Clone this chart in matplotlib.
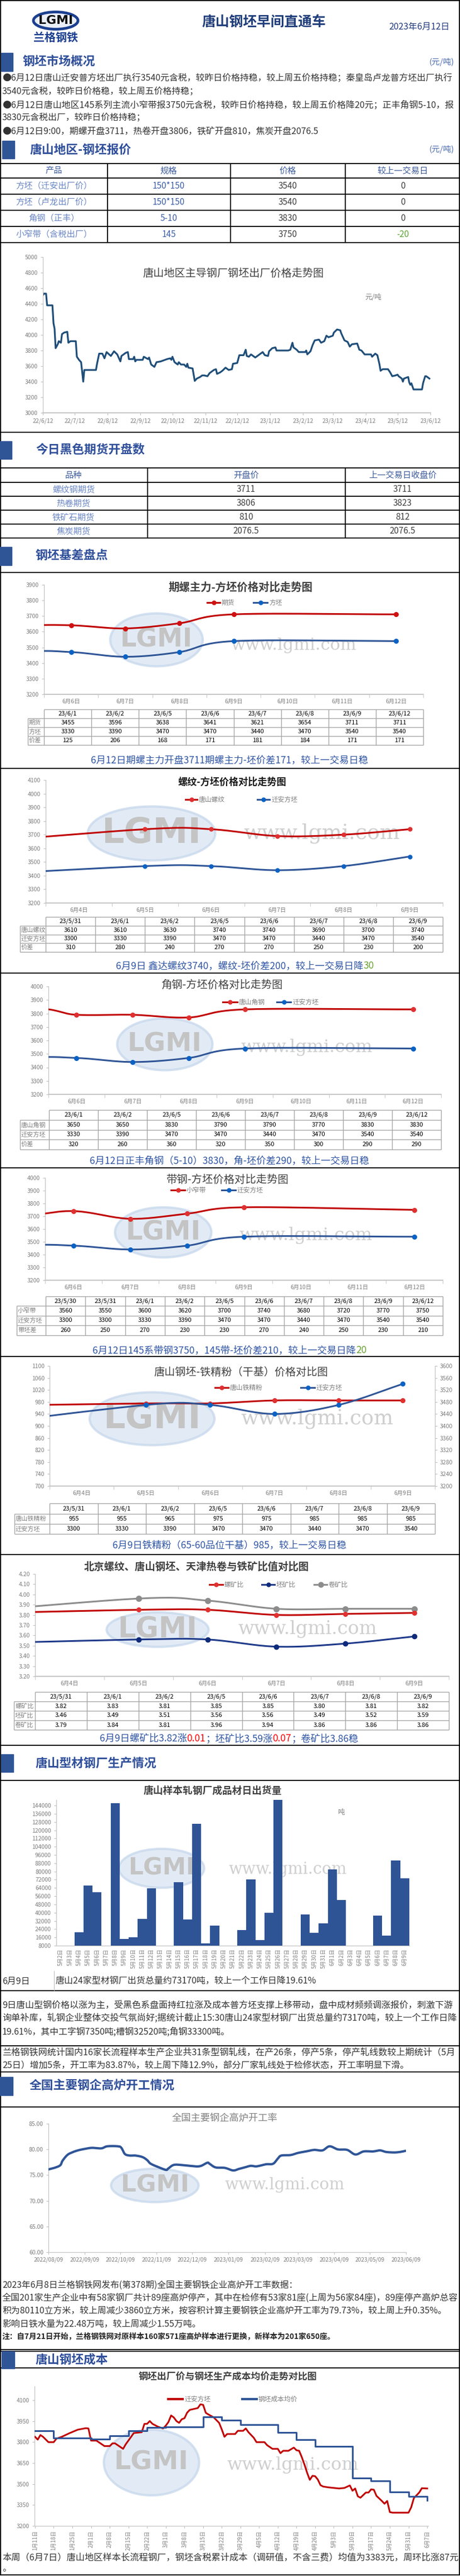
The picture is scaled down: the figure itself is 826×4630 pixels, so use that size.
# 唐山钢坯早间直通车 - one tall report page, drawn on a pixel-sized "page" axes
import re
import numpy as np
import pandas as pd
import matplotlib
matplotlib.use('Agg')
import matplotlib.pyplot as plt
import matplotlib.dates as mdates
from matplotlib.patches import Rectangle, Ellipse

plt.rcParams['font.family'] = ['Noto Sans CJK SC', 'DejaVu Sans']
plt.rcParams['axes.unicode_minus'] = False

# ---------------- data ----------------
quote_products = ['方坯（迁安出厂价）', '方坯（卢龙出厂价）', '角钢（正丰）', '小窄带（含税出厂）']
quote_specs = ['150*150', '150*150', '5-10', '145']
quote_prices = [3540, 3540, 3830, 3750]
quote_change = [0, 0, 0, -20]

fut_names = ['螺纹钢期货', '热卷期货', '铁矿石期货', '焦炭期货']
fut_open = ['3711', '3806', '810', '2076.5']
fut_prev = ['3711', '3823', '812', '2076.5']

billet_dates = ['2022-06-12', '2022-06-13', '2022-06-15', '2022-06-16', '2022-06-21', '2022-06-22', '2022-06-23',
                '2022-06-24', '2022-06-26', '2022-06-27', '2022-06-29', '2022-06-30', '2022-07-02', '2022-07-05',
                '2022-07-06', '2022-07-08', '2022-07-13', '2022-07-14', '2022-07-16', '2022-07-18', '2022-07-20',
                '2022-07-21', '2022-08-01', '2022-08-02', '2022-08-04', '2022-08-07', '2022-08-09', '2022-08-11',
                '2022-08-15', '2022-08-18', '2022-08-21', '2022-08-24', '2022-08-25', '2022-08-29', '2022-08-31',
                '2022-09-01', '2022-09-05', '2022-09-06', '2022-09-07', '2022-09-08', '2022-09-14', '2022-09-15',
                '2022-09-19', '2022-09-20', '2022-09-22', '2022-09-25', '2022-09-27', '2022-10-01', '2022-10-07',
                '2022-10-10', '2022-10-11', '2022-10-12', '2022-10-14', '2022-10-17', '2022-10-18', '2022-10-20',
                '2022-10-23', '2022-10-25', '2022-10-26', '2022-10-27', '2022-10-31', '2022-11-02', '2022-11-04',
                '2022-11-07', '2022-11-09', '2022-11-11', '2022-11-14', '2022-11-16', '2022-11-20', '2022-11-22',
                '2022-11-23', '2022-11-26', '2022-11-28', '2022-12-01', '2022-12-04', '2022-12-07', '2022-12-08',
                '2022-12-12', '2022-12-14', '2022-12-18', '2022-12-20', '2022-12-21', '2022-12-23', '2022-12-25',
                '2022-12-29', '2023-01-01', '2023-01-04', '2023-01-05', '2023-01-07', '2023-01-10', '2023-01-11',
                '2023-01-14', '2023-01-17', '2023-01-18', '2023-01-29', '2023-01-31', '2023-02-02', '2023-02-03',
                '2023-02-06', '2023-02-08', '2023-02-14', '2023-02-15', '2023-02-16', '2023-02-19', '2023-02-21',
                '2023-02-23', '2023-02-27', '2023-03-01', '2023-03-04', '2023-03-06', '2023-03-08', '2023-03-12',
                '2023-03-13', '2023-03-16', '2023-03-19', '2023-03-20', '2023-03-23', '2023-03-26', '2023-03-28',
                '2023-03-30', '2023-04-04', '2023-04-06', '2023-04-08', '2023-04-11', '2023-04-17', '2023-04-18',
                '2023-04-21', '2023-04-23', '2023-04-25', '2023-04-26', '2023-04-28', '2023-05-03', '2023-05-05',
                '2023-05-07', '2023-05-10', '2023-05-12', '2023-05-13', '2023-05-16', '2023-05-17', '2023-05-18',
                '2023-05-22', '2023-05-23', '2023-05-24', '2023-05-25', '2023-05-27', '2023-06-04', '2023-06-05',
                '2023-06-07', '2023-06-08', '2023-06-11']
billet_prices = [4510, 4530, 4530, 4380, 4380, 4150, 4080, 3830, 3880, 3920, 3900, 4010, 4030, 4040, 3900, 3920,
                 3920, 3720, 3680, 3650, 3400, 3550, 3550, 3630, 3760, 3760, 3700, 3780, 3730, 3790, 3750, 3660,
                 3730, 3770, 3780, 3690, 3690, 3720, 3660, 3680, 3680, 3720, 3690, 3710, 3620, 3590, 3650, 3660,
                 3690, 3700, 3680, 3720, 3650, 3620, 3650, 3620, 3620, 3590, 3630, 3580, 3570, 3410, 3440, 3460,
                 3480, 3480, 3470, 3510, 3550, 3560, 3500, 3520, 3540, 3580, 3550, 3560, 3630, 3640, 3740, 3740,
                 3810, 3730, 3720, 3750, 3710, 3740, 3770, 3780, 3740, 3730, 3790, 3830, 3840, 3800, 3800, 3810,
                 3900, 3840, 3810, 3780, 3780, 3800, 3750, 3790, 3870, 3930, 3940, 3900, 3920, 3990, 3970, 3990,
                 4030, 4070, 4060, 4020, 3930, 3910, 3850, 3880, 3890, 3810, 3800, 3750, 3750, 3720, 3760, 3740,
                 3620, 3540, 3560, 3560, 3520, 3470, 3480, 3490, 3470, 3440, 3400, 3440, 3460, 3390, 3360, 3380,
                 3300, 3300, 3380, 3470, 3470, 3440]
billet_ticks = ['2022-06-12', '2022-07-12', '2022-08-12', '2022-09-12', '2022-10-12', '2022-11-12', '2022-12-12',
                '2023-01-12', '2023-02-12', '2023-03-12', '2023-04-12', '2023-05-12', '2023-06-12']

# 期螺主力-方坯
fut_days = ['23/6/1', '23/6/2', '23/6/5', '23/6/6', '23/6/7', '23/6/8', '23/6/9', '23/6/12']
fut_main = [3455, 3596, 3638, 3641, 3621, 3654, 3711, 3711]
fut_billet = [3330, 3390, 3470, 3470, 3440, 3470, 3540, 3540]
fut_spread = [125, 206, 168, 171, 181, 184, 171, 171]
cats_a = ['6月6日', '6月7日', '6月8日', '6月9日', '6月10日', '6月11日', '6月12日']

# 螺纹-方坯
rebar_days = ['23/5/31', '23/6/1', '23/6/2', '23/6/5', '23/6/6', '23/6/7', '23/6/8', '23/6/9']
rebar_ts = [3610, 3610, 3630, 3740, 3740, 3690, 3700, 3740]
rebar_billet = [3300, 3330, 3390, 3470, 3470, 3440, 3470, 3540]
rebar_spread = [310, 280, 240, 270, 270, 250, 230, 200]
cats_b = ['6月4日', '6月5日', '6月6日', '6月7日', '6月8日', '6月9日']

# 角钢-方坯
angle_days = ['23/6/1', '23/6/2', '23/6/5', '23/6/6', '23/6/7', '23/6/8', '23/6/9', '23/6/12']
angle_ts = [3650, 3650, 3830, 3790, 3790, 3770, 3830, 3830]
angle_billet = [3330, 3390, 3470, 3470, 3440, 3470, 3540, 3540]
angle_spread = [320, 260, 360, 320, 350, 300, 290, 290]

# 带钢-方坯
strip_days = ['23/5/30', '23/5/31', '23/6/1', '23/6/2', '23/6/5', '23/6/6', '23/6/7', '23/6/8', '23/6/9', '23/6/12']
strip_ts = [3560, 3550, 3600, 3620, 3700, 3740, 3680, 3720, 3770, 3750]
strip_billet = [3300, 3300, 3330, 3390, 3470, 3470, 3440, 3470, 3540, 3540]
strip_spread = [260, 250, 270, 230, 230, 270, 240, 250, 230, 210]

# 铁精粉-方坯
ore_days = ['23/5/31', '23/6/1', '23/6/2', '23/6/5', '23/6/6', '23/6/7', '23/6/8', '23/6/9']
ore_ts = [955, 955, 965, 975, 975, 985, 985, 985]
ore_billet = [3300, 3330, 3390, 3470, 3470, 3440, 3470, 3540]

# 比值
ratio_days = ['23/5/31', '23/6/1', '23/6/2', '23/6/5', '23/6/6', '23/6/7', '23/6/8', '23/6/9']
ratio_rebar = [3.82, 3.83, 3.81, 3.85, 3.85, 3.80, 3.81, 3.82]
ratio_billet = [3.46, 3.49, 3.51, 3.56, 3.56, 3.49, 3.52, 3.59]
ratio_coil = [3.79, 3.84, 3.81, 3.96, 3.94, 3.86, 3.86, 3.86]

# 型材出货量
ship_days = ['5月2日', '5月3日', '5月4日', '5月5日', '5月6日', '5月7日', '5月8日', '5月9日', '5月10日', '5月11日',
             '5月12日', '5月13日', '5月14日', '5月15日', '5月16日', '5月17日', '5月18日', '5月19日', '5月20日',
             '5月21日', '5月22日', '5月23日', '5月24日', '5月25日', '5月26日', '5月27日', '5月28日', '5月29日',
             '5月30日', '5月31日', '6月1日', '6月2日', '6月3日', '6月4日', '6月5日', '6月6日', '6月7日', '6月8日',
             '6月9日']
ship_tons = [0, 0, 21000, 66400, 60000, 0, 146300, 14700, 16300, 34100, 63800, 0, 0, 69600, 33600, 126500, 10000,
             27300, 0, 0, 23100, 72100, 13200, 39900, 150000, 0, 0, 38300, 20400, 29800, 82000, 52300, 0, 0, 0,
             37200, 17900, 90900, 73170]

# 高炉开工率
furnace_dates = ['2022-08-09', '2022-08-14', '2022-08-19', '2022-08-21', '2022-08-25', '2022-08-29', '2022-09-03',
                 '2022-09-09', '2022-09-15', '2022-09-23', '2022-09-28', '2022-10-07', '2022-10-10', '2022-10-13',
                 '2022-10-17', '2022-10-22', '2022-10-28', '2022-11-01', '2022-11-04', '2022-11-11', '2022-11-17',
                 '2022-11-19', '2022-11-24', '2022-12-03', '2022-12-15', '2022-12-22', '2022-12-24', '2022-12-29',
                 '2023-01-06', '2023-01-13', '2023-01-18', '2023-01-23', '2023-01-28', '2023-02-02', '2023-02-10',
                 '2023-02-16', '2023-02-20', '2023-02-23', '2023-03-03', '2023-03-09', '2023-03-16', '2023-03-23',
                 '2023-03-30', '2023-04-05', '2023-04-12', '2023-04-20', '2023-04-27', '2023-05-04', '2023-05-12',
                 '2023-05-18', '2023-05-23', '2023-05-30', '2023-06-04', '2023-06-09']
furnace_rate = [76.1, 76.4, 76.9, 77.8, 78.9, 79.4, 79.8, 80.1, 80.3, 80.2, 80.6, 80.6, 80.3, 79.1, 78.8, 78.8,
                78.5, 77.9, 77.2, 76.5, 76.0, 76.3, 77.0, 76.9, 76.7, 77.4, 77.2, 76.5, 76.4, 75.9, 76.2, 76.5,
                76.8, 76.7, 77.1, 77.2, 78.2, 78.8, 78.9, 79.3, 79.6, 79.9, 79.8, 80.6, 80.0, 79.9, 79.0, 79.6,
                79.6, 79.8, 79.5, 79.4, 79.5, 79.73]
furnace_ticks = ['2022/08/09', '2022/09/09', '2022/10/09', '2022/11/09', '2022/12/09', '2023/01/09', '2023/02/09',
                 '2023/03/09', '2023/04/09', '2023/05/09', '2023/06/09']

# 钢坯成本
qa_dates = ['01-11', '01-12', '01-13', '01-14', '01-16', '01-18', '01-19', '01-21', '01-24', '01-27', '01-30',
            '01-31', '02-01', '02-03', '02-06', '02-08', '02-09', '02-10', '02-13', '02-14', '02-16', '02-17',
            '02-20', '02-21', '02-22', '02-23', '02-24', '02-26', '02-28', '03-01', '03-02', '03-03', '03-04',
            '03-05', '03-06', '03-07', '03-08', '03-09', '03-10', '03-13', '03-14', '03-15', '03-16', '03-17',
            '03-19', '03-21', '03-22', '03-23', '03-24', '03-27', '03-28', '03-30', '03-31', '04-01', '04-03',
            '04-04', '04-07', '04-08', '04-10', '04-12', '04-13', '04-14', '04-16', '04-18', '04-19', '04-20',
            '04-21', '04-22', '04-23', '04-24', '04-25', '04-26', '04-27', '04-28', '04-29', '05-01', '05-05',
            '05-07', '05-09', '05-10', '05-11', '05-12', '05-13', '05-15', '05-16', '05-17', '05-18', '05-19',
            '05-21', '05-22', '05-23', '05-24', '05-25', '05-31', '06-01', '06-02', '06-04', '06-05', '06-07']
qa_price = [3838, 3818, 3851, 3838, 3800, 3800, 3825, 3838, 3865, 3889, 3900, 3898, 3811, 3811, 3772, 3772, 3791,
            3791, 3752, 3785, 3838, 3865, 3871, 3931, 3931, 3951, 3931, 3911, 3898, 3918, 3944, 3991, 3977, 3951,
            3938, 3964, 3971, 4011, 4031, 4044, 4071, 4067, 4010, 3998, 3977, 3938, 3891, 3838, 3858, 3858, 3881,
            3881, 3898, 3871, 3831, 3800, 3800, 3778, 3752, 3752, 3721, 3738, 3738, 3761, 3742, 3738, 3692, 3639,
            3580, 3530, 3559, 3556, 3532, 3492, 3482, 3476, 3468, 3472, 3490, 3452, 3468, 3412, 3402, 3439, 3439,
            3462, 3459, 3415, 3379, 3359, 3379, 3299, 3295, 3295, 3333, 3399, 3439, 3470, 3468]
cost_weeks = ['01-11', '01-18', '01-25', '02-01', '02-08', '02-15', '02-22', '03-01', '03-08', '03-15', '03-22',
              '03-29', '04-05', '04-12', '04-19', '04-26', '05-03', '05-10', '05-17', '05-24', '05-31', '06-07']
cost_avg = [3880, 3828, 3828, 3822, 3847, 3882, 3904, 3909, 3909, 3982, 3958, 3927, 3927, 3870, 3817, 3768, 3768,
            3543, 3523, 3442, 3410, 3383]

# ---------------- page ----------------
W, H = 826, 4630
fig = plt.figure(figsize=(W / 100, H / 100), dpi=100)
page = fig.add_axes([0, 0, 1, 1])
page.set_xlim(0, W)
page.set_ylim(H, 0)
page.axis('off')
rend = fig.canvas.get_renderer()

BAR = '#2F5597'
HEAD = '#2F4F9A'
BODY = '#333333'
CAP = '#2F55A4'
GREEN = '#5BA532'
RED = '#C00000'
BLUE = '#2F5597'
GRID = '#A6A6A6'
TICK = '#7F7F7F'


def txt(x, y, s, size=11, color=BODY, ha='left', va='center', weight='normal', fitw=None, family=None, z=3):
    kw = {'family': family} if family else {}
    t = page.text(x, y, s, fontsize=size, color=color, ha=ha, va=va, fontweight=weight, zorder=z, **kw)
    if fitw:
        w = t.get_window_extent(rend).width
        t.set_fontsize(size * fitw / w)
    return t


def rich(xc, y, parts, fitw, size=12):
    ts = [page.text(0, y, s, fontsize=size, color=c, va='center', zorder=3) for s, c in parts]
    total = sum(t.get_window_extent(rend).width for t in ts)
    k = fitw / total
    for t in ts:
        t.set_fontsize(size * k)
    x = xc - fitw / 2
    for t in ts:
        t.set_x(x)
        x += t.get_window_extent(rend).width


def hline(y, x0=0, x1=W, c='black', lw=1.3):
    page.plot([x0, x1], [y, y], color=c, lw=lw, solid_capstyle='butt', zorder=2)


def vline(x, y0, y1, c='black', lw=1.3):
    page.plot([x, x], [y0, y1], color=c, lw=lw, solid_capstyle='butt', zorder=2)


def section(y0, y1, title, tx, bx0=0, bx1=22, unit=False):
    page.add_patch(Rectangle((bx0, y0), bx1 - bx0, y1 - y0, color=BAR, zorder=2))
    txt(tx, (y0 + y1) / 2, title, 15.7, HEAD, weight='bold')
    if unit:
        txt(816, (y0 + y1) / 2, '(元/吨)', 10.5, '#4A6AAE', ha='right')


def watermark(cx, cy, w, h, tx, ty, tw):
    page.add_patch(Ellipse((cx, cy), w, h, fc='#D9E5F2', ec='#C6D7EC', lw=3, alpha=0.75, zorder=1))
    txt(cx, cy, 'LGMI', 20, '#C4C4C4', ha='center', weight='bold', fitw=w * 0.78, family='DejaVu Sans', z=1.2)
    txt(tx, ty, 'www.lgmi.com', 24, '#CFCFCF', ha='center', fitw=tw, family='DejaVu Serif', z=1.2)


def legend_item(x0, x1, y, color, label, mcolor=None, ms=5, lw=2.2):
    page.plot([x0, x1], [y, y], color=color, lw=lw, zorder=3)
    if mcolor:
        page.plot([(x0 + x1) / 2], [y], 'o', color=mcolor, ms=ms, zorder=4)
    txt(x1 + 3, y, label, 8.5, TICK)


def data_table(xl, x0, x1, ys, header, rows):
    n = len(header)
    cw = (x1 - x0) / n
    hline(ys[0], x0, x1, GRID, 1.0)
    for y in ys[1:]:
        hline(y, xl, x1, GRID, 1.0)
    vline(xl, ys[1], ys[-1], GRID, 1.0)
    for i in range(n + 1):
        vline(x0 + i * cw, ys[0], ys[-1], GRID, 1.0)
    for i, h in enumerate(header):
        txt(x0 + (i + .5) * cw, (ys[0] + ys[1]) / 2, h, 8, '#000000', ha='center')
    for r, (lab, vals) in enumerate(rows):
        yc = (ys[r + 1] + ys[r + 2]) / 2
        txt(xl + 2, yc, lab, 8, TICK)
        for i, v in enumerate(vals):
            txt(x0 + (i + .5) * cw, yc, v, 8, '#000000', ha='center')


def chart_ax(x0, y0, x1, y1):
    ax = fig.add_axes([x0 / W, 1 - y1 / H, (x1 - x0) / W, (y1 - y0) / H])
    ax.patch.set_alpha(0)
    ax.spines[['top', 'right']].set_visible(False)
    ax.spines['left'].set_color('#BFBFBF')
    ax.spines['bottom'].set_color('#C8C8C8')
    ax.spines['bottom'].set_linewidth(1.5)
    ax.tick_params(labelsize=7.5, labelcolor=TICK, color='#BFBFBF', length=3)
    return ax


def smooth(ax, x, y, n=20):
    # Catmull-Rom through the points in screen space (like a smoothed Excel line)
    p = ax.transData.transform(np.column_stack([x, y]))
    p = np.vstack([2 * p[0] - p[1], p, 2 * p[-1] - p[-2]])
    t = np.linspace(0, 1, n, endpoint=False)[:, None]
    segs = []
    for i in range(1, len(p) - 2):
        p0, p1, p2, p3 = p[i - 1], p[i], p[i + 1], p[i + 2]
        segs.append(0.5 * (2 * p1 + (p2 - p0) * t + (2 * p0 - 5 * p1 + 4 * p2 - p3) * t ** 2
                           + (3 * p1 - p0 - 3 * p2 + p3) * t ** 3))
    segs.append(p[-2][None, :])
    q = ax.transData.inverted().transform(np.vstack(segs))
    return q[:, 0], q[:, 1]


def day_num(s):
    return mdates.date2num(pd.to_datetime('20' + s, format='%Y/%m/%d'))


def cat_num(s):
    m, d = re.match(r'(\d+)月(\d+)日', s).groups()
    return mdates.date2num(pd.Timestamp(2023, int(m), int(d)))


def line_chart(rect, dates, series, cats, ylim, ystep, fmt='{:.0f}'):
    ax = chart_ax(*rect)
    cx = [cat_num(c) for c in cats]
    ax.set_xlim(cx[0] - .5, cx[-1] + .5)
    ax.set_ylim(*ylim)
    ticks = np.arange(ylim[0], ylim[1] + ystep / 2, ystep)
    ax.set_yticks(ticks)
    ax.set_yticklabels([fmt.format(v) for v in ticks])
    ax.set_xticks(cx)
    ax.set_xticklabels(cats)
    ax.set_xticks(np.arange(cx[0] - .5, cx[-1] + 1), minor=True)
    ax.tick_params(axis='x', which='major', length=0, pad=6)
    ax.tick_params(axis='x', which='minor', length=4, color='#BFBFBF')
    xd = [day_num(d) for d in dates]
    for vals, lc, mc, ms in series:
        sx, sy = smooth(ax, xd, vals)
        ax.plot(sx, sy, color=lc, lw=2.2, solid_capstyle='round', zorder=3)
        ax.plot(xd, vals, 'o', color=mc, ms=ms, zorder=4)
    return ax


# ---------------- frame & separators ----------------
vline(1, 0, H - 1)
vline(825, 0, H - 1)
hline(1)
for y in [294, 320, 349, 378, 407, 436, 777, 841, 867, 892, 917, 942, 967, 1029, 1381, 1749, 2099, 2438,
          2794, 3137, 3200, 3578, 3677, 3724, 3787, 4223, 4226, 4256, 4628]:
    hline(y)

# ---------------- header ----------------
page.add_patch(Ellipse((100, 37), 80, 31, fc='#E9EEF7', ec='#1B3F8F', lw=3.5, zorder=2))
txt(100, 37, 'LGMI', 16, '#111111', ha='center', weight='bold', fitw=62, family='DejaVu Sans')
txt(100, 67, '兰格钢铁', 13, '#1B3F8F', ha='center', weight='bold', fitw=80)
txt(474, 40, '唐山钢坯早间直通车', 18, '#1F3D7A', ha='center', weight='bold', fitw=223)
txt(808, 48, '2023年6月12日', 11, '#1F3A7A', ha='right', fitw=109)

# ---------------- 钢坯市场概况 ----------------
section(95, 128, '钢坯市场概况', 41, 2, 23, unit=True)
bullets = ['●6月12日唐山迁安普方坯出厂执行3540元含税，较昨日价格持稳，较上周五价格持稳；秦皇岛卢龙普方坯出厂执行',
           '3540元含税，较昨日价格稳，较上周五价格持稳；',
           '●6月12日唐山地区145系列主流小窄带报3750元含税，较昨日价格持稳，较上周五价格降20元；正丰角钢5-10，报',
           '3830元含税出厂，较昨日价格持稳；',
           '●6月12日9:00，期螺开盘3711，热卷开盘3806，铁矿开盘810，焦炭开盘2076.5']
fs = txt(4, 141, bullets[0], 11.3, fitw=814).get_fontsize()
txt(4, 165, bullets[1], fs)
txt(4, 189, bullets[2], 11.3, fitw=814)
txt(4, 212, bullets[3], fs)
txt(4, 237, bullets[4], fs)

# ---------------- 钢坯报价 table ----------------
section(253, 285, '唐山地区-钢坯报价', 53, 4, 26, unit=True)
for x in (193, 414, 620):
    vline(x, 294, 436)
for c, h in zip([97, 303, 517, 723], ['产品', '规格', '价格', '较上一交易日']):
    txt(c, 307, h, 11, '#3B5A9A', ha='center')
rows1 = [294, 320, 349, 378, 407, 436]
for i in range(4):
    yc = (rows1[i + 1] + rows1[i + 2]) / 2
    txt(97, yc, quote_products[i], 11, '#6A86C4', ha='center')
    txt(303, yc, quote_specs[i], 11, '#3D5FA8', ha='center')
    txt(517, yc, str(quote_prices[i]), 11, '#404040', ha='center')
    txt(723, yc, str(quote_change[i]), 11, GREEN if quote_change[i] < 0 else '#404040', ha='center')

# chart 1: long billet trend
ax1 = chart_ax(77, 462, 773, 742)
ax1.plot(pd.to_datetime(billet_dates), billet_prices, color='#1F4E79', lw=2.3, solid_joinstyle='round')
ax1.set_xlim(mdates.date2num(pd.Timestamp('2022-06-12')), mdates.date2num(pd.Timestamp('2023-06-12')))
ax1.set_ylim(3000, 5000)
ax1.set_yticks(np.arange(3000, 5001, 200))
bt = pd.to_datetime(billet_ticks)
ax1.set_xticks(mdates.date2num(bt))
ax1.set_xticklabels([f'{d.year % 100}/{d.month}/{d.day}' for d in bt])
ax1.tick_params(axis='x', pad=4)
txt(419, 491, '唐山地区主导钢厂钢坯出厂价格走势图', 13.5, '#404040', ha='center', fitw=326)
txt(670, 535, '元/吨', 9, TICK, ha='center')

# ---------------- 期货开盘 table ----------------
section(793, 825, '今日黑色期货开盘数', 64, 0, 21)
for x in (265, 620):
    vline(x, 841, 967)
for c, h in zip([132, 442, 723], ['品种', '开盘价', '上一交易日收盘价']):
    txt(c, 854, h, 11, '#3B5A9A', ha='center')
rows2 = [841, 867, 892, 917, 942, 967]
for i in range(4):
    yc = (rows2[i + 1] + rows2[i + 2]) / 2
    txt(132, yc, fut_names[i], 11, '#6A86C4', ha='center')
    txt(442, yc, fut_open[i], 11, '#404040', ha='center')
    txt(723, yc, fut_prev[i], 11, '#404040', ha='center')

# ---------------- 钢坯基差盘点 ----------------
section(983, 1016, '钢坯基差盘点', 64, 0, 21)

# chart 2: 期螺主力-方坯
watermark(281, 1150, 166, 95, 527, 1160, 226)
line_chart((79, 1051, 760, 1248), fut_days,
           [(fut_main, RED, '#D01010', 5.5), (fut_billet, BLUE, '#0B62C4', 5.5)], cats_a, (3200, 3900), 100)
txt(432, 1056, '期螺主力-方坯价格对比走势图', 13.8, '#404040', ha='center', weight='bold', fitw=259)
legend_item(372, 395, 1083, RED, '期货', '#D01010')
legend_item(455, 480, 1083, BLUE, '方坯', '#0B62C4')
data_table(50, 79, 760, [1275, 1291, 1307, 1323, 1339], fut_days,
           [('期货', [str(v) for v in fut_main]), ('方坯', [str(v) for v in fut_billet]),
            ('价差', [str(v) for v in fut_spread])])
rich(412, 1367, [('6月12日期螺主力开盘3711期螺主力-坯价差171，较上一交易日稳', CAP)], 498)

# chart 3: 螺纹-方坯
watermark(272, 1498, 229, 97, 578, 1498, 282)
line_chart((82, 1402, 795, 1623), rebar_days,
           [(rebar_ts, RED, '#E03030', 5), (rebar_billet, BLUE, '#0B62C4', 5)], cats_b, (3200, 4100), 100)
txt(417, 1406, '螺纹-方坯价格对比走势图', 12.5, '#1A1A1A', ha='center', weight='bold', fitw=195)
legend_item(333, 354, 1437, RED, '唐山螺纹', '#E03030')
legend_item(462, 484, 1437, BLUE, '迁安方坯', '#0B62C4')
data_table(36, 82, 795, [1648, 1664, 1680, 1695, 1711], rebar_days,
           [('唐山螺纹', [str(v) for v in rebar_ts]), ('迁安方坯', [str(v) for v in rebar_billet]),
            ('价差', [str(v) for v in rebar_spread])])
rich(441, 1736, [('6月9日 鑫达螺纹3740，螺纹-坯价差200，较上一交易日降', CAP), ('30', '#6AA233')], 465)

# chart 4: 角钢-方坯
watermark(296, 1877, 171, 93, 551, 1882, 237)
line_chart((87, 1773, 792, 1967), angle_days,
           [(angle_ts, RED, '#E03030', 5.5), (angle_billet, BLUE, '#0B62C4', 5.5)], cats_a, (3200, 4000), 100)
txt(399, 1770, '角钢-方坯价格对比走势图', 13, '#404040', ha='center', fitw=218)
legend_item(400, 426, 1801, RED, '唐山角钢', '#E03030')
legend_item(497, 522, 1801, BLUE, '迁安方坯', '#0B62C4')
data_table(36, 88, 792, [1995, 2013, 2031, 2048, 2066], angle_days,
           [('唐山角钢', [str(v) for v in angle_ts]), ('迁安方坯', [str(v) for v in angle_billet]),
            ('价差', [str(v) for v in angle_spread])])
rich(412, 2087, [('6月12日正丰角钢（5-10）3830，角-坯价差290，较上一交易日稳', CAP)], 502)

# chart 5: 带钢-方坯
watermark(293, 2215, 173, 90, 549, 2220, 240)
line_chart((81, 2117, 795, 2301), strip_days,
           [(strip_ts, RED, '#E03030', 5.5), (strip_billet, BLUE, '#0B62C4', 5.5)], cats_a, (3200, 4000), 100)
txt(408, 2120, '带钢-方坯价格对比走势图', 13, '#404040', ha='center', fitw=219)
legend_item(307, 332, 2139, RED, '小窄带', '#E03030')
legend_item(398, 423, 2139, BLUE, '迁安方坯', '#0B62C4')
data_table(30, 82, 795, [2330, 2347, 2365, 2382, 2400], strip_days,
           [('小窄带', [str(v) for v in strip_ts]), ('迁安方坯', [str(v) for v in strip_billet]),
            ('带坯差', [str(v) for v in strip_spread])])
rich(413, 2427, [('6月12日145系带钢3750，145带-坯价差210，较上一交易日降', CAP), ('20', '#6AA233')], 494)

# chart 6: 铁精粉-方坯 (two axes)
watermark(273, 2550, 224, 95, 569, 2550, 274)
ax6 = line_chart((89, 2455, 781, 2671), ore_days, [(ore_ts, RED, '#E03030', 5.5)], cats_b, (700, 1100), 40)
ax6r = ax6.twinx()
ax6r.patch.set_alpha(0)
ax6r.spines[['top', 'left', 'bottom']].set_visible(False)
ax6r.spines['right'].set_color('#BFBFBF')
ax6r.tick_params(labelsize=7.5, labelcolor=TICK, color='#BFBFBF', length=3)
ax6r.set_ylim(3200, 3600)
ax6r.set_yticks(np.arange(3200, 3601, 40))
xo = [day_num(d) for d in ore_days]
sx, sy = smooth(ax6r, xo, ore_billet)
ax6r.plot(sx, sy, color=BLUE, lw=2.2, zorder=3)
ax6r.plot(xo, ore_billet, 'o', color='#0B62C4', ms=5.5, zorder=4)
txt(433, 2466, '唐山钢坯-铁精粉（干基）价格对比图', 14, '#404040', ha='center', fitw=313)
legend_item(386, 410, 2494, RED, '唐山铁精粉', '#E03030')
legend_item(540, 565, 2494, BLUE, '迁安方坯', '#0B62C4')
data_table(26, 89, 781, [2702, 2721, 2739, 2757], ore_days,
           [('唐山铁精粉', [str(v) for v in ore_ts]), ('迁安方坯', [str(v) for v in ore_billet])])
rich(412, 2777, [('6月9日铁精粉（65-60品位干基）985，较上一交易日稳', CAP)], 420)

# chart 7: 比值
watermark(283, 2929, 183, 62, 552, 2928, 250)
line_chart((63, 2829, 806, 3013), ratio_days,
           [(ratio_coil, '#8C8C8C', '#8C8C8C', 7), (ratio_rebar, RED, '#E03030', 5.5),
            (ratio_billet, '#1F3A8A', '#0F2A7A', 6)], cats_b, (3.2, 4.2), 0.1, fmt='{:.2f}')
txt(353, 2816, '北京螺纹、唐山钢坯、天津热卷与铁矿比值对比图', 13, '#404040', ha='center', weight='bold', fitw=402)
legend_item(376, 400, 2848, RED, '螺矿比', '#E03030')
legend_item(470, 493, 2848, '#1F3A8A', '坯矿比', '#0F2A7A')
legend_item(564, 587, 2848, '#8C8C8C', '卷矿比', '#8C8C8C', ms=6.5)
data_table(25, 63, 806, [3041, 3058, 3075, 3092, 3109], ratio_days,
           [('螺矿比', [f'{v:.2f}' for v in ratio_rebar]), ('坯矿比', [f'{v:.2f}' for v in ratio_billet]),
            ('卷矿比', [f'{v:.2f}' for v in ratio_coil])])
rich(412, 3125, [('6月9日螺矿比3.82涨', CAP), ('0.01', '#FF0000'), ('；坯矿比3.59涨', CAP),
                 ('0.07', '#FF0000'), ('；卷矿比3.86稳', CAP)], 467)

# ---------------- 型材 ----------------
section(3153, 3185, '唐山型材钢厂生产情况', 64, 2, 24)
watermark(290, 3358, 153, 70, 517, 3360, 213)
ax8 = chart_ax(101, 3235, 735, 3497)
xs = np.arange(len(ship_days))
ax8.bar(xs, ship_tons, width=1.0, color='#2F5496', zorder=3)
ax8.set_xlim(-.5, len(ship_days) - .5)
ax8.set_ylim(8000, 149500)
ax8.set_yticks(np.arange(8000, 144001, 8000))
ax8.set_xticks(xs)
ax8.set_xticklabels(ship_days, rotation=90, fontsize=7)
ax8.tick_params(axis='x', length=0, pad=4)
ax8.spines['bottom'].set_linewidth(1.0)
txt(382, 3219, '唐山样本轧钢厂成品材日出货量', 12.7, '#404040', ha='center', weight='bold', fitw=248)
txt(612, 3257, '吨', 9, TICK, ha='center')

txt(4, 3561, '6月9日', fs)
vline(97, 3542, 3578, '#BFBFBF', 0.8)
txt(100, 3561, '唐山24家型材钢厂出货总量约73170吨，较上一个工作日降19.61%', fs, fitw=466)
txt(4, 3604, '9日唐山型钢价格以涨为主，受黑色系盘面持红拉涨及成本普方坯支撑上移带动，盘中成材频频调涨报价，刺激下游',
    fs, fitw=807)
txt(4, 3627, '询单补库，轧钢企业整体交投气氛尚好;据统计截止15:30唐山24家型材钢厂出货总量约73170吨，较上一个工作日降',
    fs, fitw=815)
txt(4, 3652, '19.61%，其中工字钢7350吨;槽钢32520吨;角钢33300吨。', fs)
txt(4, 3689, '兰格钢铁网统计国内16家长流程样本生产企业共31条型钢轧线，在产26条，停产5条，停产轧线数较上期统计（5月',
    fs, fitw=809)
txt(4, 3713, '25日）增加5条，开工率为83.87%，较上周下降12.9%，部分厂家轧线处于检修状态，开工率明显下滑。', fs)

# ---------------- 高炉开工 ----------------
section(3733, 3766, '全国主要钢企高炉开工情况', 53, 0, 23)
watermark(278, 3928, 157, 60, 511, 3927, 216)
ax9 = chart_ax(87, 3817, 729, 4048)
fd = mdates.date2num(pd.to_datetime(furnace_dates))
ax9.set_xlim(fd[0], fd[-1])
ax9.set_ylim(60, 85)
sx, sy = smooth(ax9, fd, furnace_rate, n=8)
ax9.plot(sx, sy, color=BLUE, lw=3, solid_capstyle='round', zorder=3)
ax9.set_yticks(np.arange(60, 85.1, 5))
ax9.set_yticklabels([f'{v:.2f}' for v in np.arange(60, 85.1, 5)])
ax9.set_xticks(mdates.date2num(pd.to_datetime(furnace_ticks, format='%Y/%m/%d')))
ax9.set_xticklabels(furnace_ticks, fontsize=7.3)
ax9.tick_params(axis='x', pad=3)
ax9.spines['bottom'].set_linewidth(1.0)
txt(403, 3807, '全国主要钢企高炉开工率', 12.4, TICK, ha='center', fitw=190)

txt(4, 4107, '2023年6月8日兰格钢铁网发布(第378期)全国主要钢铁企业高炉开工率数据：', fs, fitw=528)
txt(4, 4130, '全国201家生产企业中有58家钢厂共计89座高炉停产，其中在检修有53家81座(上周为56家84座)，89座停产高炉总容',
    fs, fitw=818)
txt(4, 4154, '积为80110立方米，较上周减少3860立方米，按容积计算主要钢铁企业高炉开工率为79.73%，较上周上升0.35%。',
    fs, fitw=797)
txt(4, 4178, '影响日铁水量为22.48万吨，较上周减少1.55万吨。', fs)
txt(4, 4200, '注：自7月21日开始，兰格钢铁网对原样本160家571座高炉样本进行更换，新样本为201家650座。', 9.5,
    '#222222', weight='bold', fitw=602)

# ---------------- 钢坯成本 ----------------
vline(26, 4226, 4256)
section(4226, 4257, '唐山钢坯成本', 64, 3, 26)
watermark(272, 4426, 171, 118, 526, 4430, 237)
ax10 = chart_ax(62, 4289, 769, 4540)
qd = mdates.date2num(pd.to_datetime(['2023-' + d for d in qa_dates]))
cd = mdates.date2num(pd.to_datetime(['2023-' + d for d in cost_weeks]))
ax10.plot(qd, qa_price, color=RED, lw=2.2, solid_joinstyle='round', zorder=3)
ax10.plot(cd, cost_avg, color=BLUE, lw=2.2, drawstyle='steps-post', zorder=3)
ax10.set_xlim(cd[0] - 0.2, cd[-1] + 0.4)
ax10.set_ylim(3200, 4200)
ax10.set_yticks(np.arange(3200, 4101, 150))
ax10.set_xticks(cd)
ax10.set_xticklabels([f'{int(d[:2])}月{int(d[3:])}日' for d in cost_weeks], rotation=90, fontsize=7)
ax10.tick_params(axis='x', pad=3)
ax10.spines['bottom'].set_linewidth(1.0)
txt(409, 4272, '钢坯出厂价与钢坯生产成本均价走势对比图', 12, '#404040', ha='center', weight='bold', fitw=320)
legend_item(302, 328, 4312, RED, '迁安方坯', lw=3)
legend_item(435, 461, 4312, BLUE, '钢坯成本均价', lw=3)
txt(4, 4597, '本周（6月7日）唐山地区样本长流程钢厂，钢坯含税累计成本（调研值，不含三费）均值为3383元，周环比涨87元',
    fs, fitw=818)
txt(4, 4617, '。', fs)

fig.savefig('out.png', dpi=100)
